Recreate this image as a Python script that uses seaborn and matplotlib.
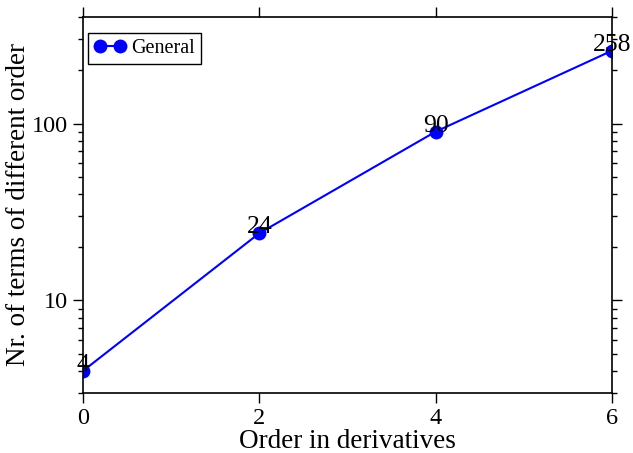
import matplotlib
matplotlib.use("Agg")
import matplotlib.pyplot as plt
import seaborn as sns
import pandas as pd
from matplotlib.ticker import LogLocator, FixedLocator, NullFormatter

order = [0, 2, 4, 6]
terms = [4, 24, 90, 258]
series_name = "General"

sns.set_style("ticks")
plt.rcParams["font.family"] = ["Liberation Serif", "DejaVu Serif"]
plt.rcParams["text.color"] = "black"
plt.rcParams["axes.labelcolor"] = "black"
plt.rcParams["xtick.color"] = "black"
plt.rcParams["ytick.color"] = "black"

df = pd.DataFrame({"order": order, "terms": terms, "series": series_name})

fig = plt.figure(figsize=(6.33, 4.53), dpi=100)
ax = fig.add_axes([83 / 633, 1 - 393 / 453, (612 - 83) / 633, (393 - 17) / 453])

sns.lineplot(data=df, x="order", y="terms", hue="series", palette=["#0000ff"],
             marker="o", markersize=10, markeredgewidth=0, linewidth=1.5,
             ax=ax, legend=True)

ax.set_yscale("log")
ax.set_xlim(0, 6)
ax.set_ylim(3, 400)
ax.xaxis.set_major_locator(FixedLocator([0, 2, 4, 6]))
ax.yaxis.set_major_locator(FixedLocator([10, 100]))
ax.yaxis.set_minor_locator(LogLocator(base=10, subs=range(2, 10)))
ax.yaxis.set_minor_formatter(NullFormatter())
ax.set_yticklabels(["10", "100"])

for side in ["top", "right", "left", "bottom"]:
    ax.spines[side].set_visible(True)
    ax.spines[side].set_linewidth(1.2)
    ax.spines[side].set_color("black")

ax.tick_params(axis="both", which="major", direction="out", length=7.3, width=1,
               pad=3.5, labelsize=17.5, top=True, right=True, colors="black")
ax.tick_params(axis="both", which="minor", direction="out", length=3.8, width=1,
               top=True, right=True)
ax.tick_params(axis="x", which="minor", bottom=False, top=False)

ax.set_xlabel("Order in derivatives", fontsize=19.5, labelpad=0, color="black")
ax.set_ylabel("Nr. of terms of different order", fontsize=19.5, color="black")
ax.yaxis.set_label_coords(-0.098, 0.5)

for xv, yv in zip(order, terms):
    ax.text(xv, yv, str(yv), ha="center", va="baseline", fontsize=18.5,
            color="black", zorder=5)

handles, labels = ax.get_legend_handles_labels()
leg = ax.legend(handles, labels, loc="upper left", bbox_to_anchor=(0.0095, 0.957),
                fontsize=14.5, frameon=True, fancybox=False, framealpha=1,
                edgecolor="black", borderpad=0.3, handlelength=1.6,
                handletextpad=0.25, borderaxespad=0.0, numpoints=2)
leg.get_frame().set_linewidth(1.0)

fig.savefig("out.png", dpi=100)
